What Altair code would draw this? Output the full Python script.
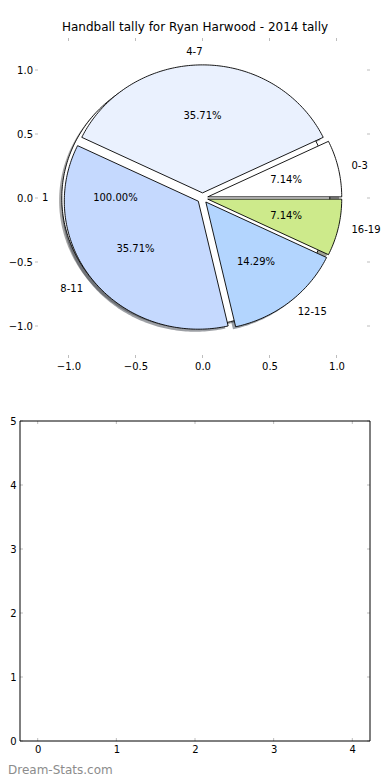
import numpy as np
import pandas as pd
import altair as alt

# ---------------- data ----------------
TITLE = "Handball tally for Ryan Harwood - 2014 tally"
slice_labels = ["0-3", "4-7", "8-11", "12-15", "16-19"]
slice_counts = [1, 5, 5, 2, 1]          # -> 7.14%, 35.71%, 35.71%, 14.29%, 7.14%
slice_colors = ["#ffffff", "#eaf1fe", "#c5d9fe", "#b3d5fe", "#cdea8b"]
full_labels = ["1"]
full_counts = [1]                        # -> 100.00%
full_colors = ["#ffffff"]
pie_ticks = [-1.0, -0.5, 0.0, 0.5, 1.0]
bottom_x_ticks = [0, 1, 2, 3, 4]
bottom_y_ticks = [0, 1, 2, 3, 4, 5]
WATERMARK = "Dream-Stats.com"

# ---------------- styles / layout ----------------
FONT = "DejaVu Sans"
TICK = "#bdbdbd"
EXPLODE = 0.04
EXPLODE_FULL = 0.05
SHADOW_OFF = -0.02
W = 350
TOP_X0 = 15               # left edge of the upper panel inside the view
H_TOP, GAP, H_BOT = 320, 63, 320
H = H_TOP + GAP + H_BOT
B0 = H_TOP + GAP          # top edge of the lower panel
TL = 3                    # tick length in px


def darker(hexc, f=0.3):
    r, g, b = (int(hexc[i:i + 2], 16) for i in (1, 3, 5))
    return "#%02x%02x%02x" % (int(r * f), int(g * f), int(b * f))


def build(labels, counts, explode, prefix):
    total = float(sum(counts))
    polys, shadows, texts = [], [], []
    t1 = 0.0
    for lab, c in zip(labels, counts):
        frac = c / total
        t2 = t1 + frac
        m = np.pi * (t1 + t2)
        cx, cy = explode * np.cos(m), explode * np.sin(m)
        n = max(int(frac * 360), 4) + 1
        ang = np.linspace(2 * np.pi * t1, 2 * np.pi * t2, n)
        if frac >= 0.999999:
            xs = list(cx + np.cos(ang))
            ys = list(cy + np.sin(ang))
        else:
            xs = [cx] + list(cx + np.cos(ang)) + [cx]
            ys = [cy] + list(cy + np.sin(ang)) + [cy]
        key = prefix + lab
        for i, (x, y) in enumerate(zip(xs, ys)):
            polys.append({"key": key, "o": i, "x": x, "y": y})
            shadows.append({"key": "sh" + key, "o": i, "x": x + SHADOW_OFF, "y": y + SHADOW_OFF})
        xt = cx + 1.1 * np.cos(m)
        yt = cy + 1.1 * np.sin(m)
        texts.append({"text": lab, "x": xt, "y": yt, "side": "left" if xt > 1e-9 else "right"})
        texts.append({"text": "%.2f%%" % (100 * frac),
                      "x": cx + 0.6 * np.cos(m), "y": cy + 0.6 * np.sin(m), "side": "center"})
        t1 = t2
    return polys, shadows, texts


fp, fs, ft = build(full_labels, full_counts, EXPLODE_FULL, "full")
sp, ss, st = build(slice_labels, slice_counts, EXPLODE, "sl")

full_df = pd.DataFrame(fp)
slice_df = pd.DataFrame(sp)
shadow_df = pd.DataFrame(fs + ss)
text_df = pd.DataFrame(ft + st)

fill_domain = ["full" + l for l in full_labels] + ["sl" + l for l in slice_labels]
fill_range = full_colors + slice_colors
sh_domain = ["sh" + k for k in fill_domain]
sh_range = [darker(c) for c in fill_range]
fill_scale = alt.Scale(domain=sh_domain + fill_domain, range=sh_range + fill_range)

LBL = dict(ticks=False, domain=False, grid=False, labelFont=FONT, labelFontSize=10,
           labelColor="black", labelFlush=False, labelOverlap=False, title=None)

# ---------------- upper panel (pie) ----------------
X_TOP = dict(scale=alt.Scale(domain=[-1.25, 1.25], range=[TOP_X0, W], nice=False, zero=False),
             axis=alt.Axis(values=pie_ticks, format=".1f", orient="bottom", offset=-(H - H_TOP),
                           labelPadding=3, **LBL))
Y_TOP = dict(scale=alt.Scale(domain=[-1.25, 1.25], range=[H_TOP, 0], nice=False, zero=False),
             axis=alt.Axis(values=pie_ticks, format=".1f", orient="left", offset=-TOP_X0,
                           labelPadding=2.5, **LBL))


def wedge_layer(df, **mark_kw):
    return alt.Chart(df).mark_line(**mark_kw).encode(
        x=alt.X("x:Q", **X_TOP),
        y=alt.Y("y:Q", **Y_TOP),
        order="o:Q",
        detail="key:N",
        fill=alt.Fill("key:N", scale=fill_scale, legend=None),
    )


def text_layer(side):
    return alt.Chart(text_df).transform_filter(alt.datum.side == side).mark_text(
        align=side, baseline="middle", font=FONT, fontSize=10, color="black"
    ).encode(x=alt.X("x:Q", **X_TOP), y=alt.Y("y:Q", **Y_TOP), text="text:N")


def ticks_x(values, xenc, y_top, y_bot):
    base = alt.Chart(pd.DataFrame({"v": values})).mark_rule(color=TICK, strokeWidth=1)
    return [base.encode(x=alt.X("v:Q", **xenc), y=alt.value(y_bot - TL), y2=alt.value(y_bot)),
            base.encode(x=alt.X("v:Q", **xenc), y=alt.value(y_top), y2=alt.value(y_top + TL))]


def ticks_y(values, yenc, x_left):
    base = alt.Chart(pd.DataFrame({"v": values})).mark_rule(color=TICK, strokeWidth=1)
    return [base.encode(y=alt.Y("v:Q", **yenc), x=alt.value(x_left), x2=alt.value(x_left + TL)),
            base.encode(y=alt.Y("v:Q", **yenc), x=alt.value(W - TL), x2=alt.value(W))]


top = alt.layer(
    wedge_layer(shadow_df, strokeOpacity=0, fillOpacity=0.5),
    wedge_layer(full_df, stroke="black", strokeWidth=0.9),
    wedge_layer(slice_df, stroke="black", strokeWidth=0.9),
    *ticks_x(pie_ticks, X_TOP, 0, H_TOP), *ticks_y(pie_ticks, Y_TOP, TOP_X0),
    text_layer("center"), text_layer("left"), text_layer("right"),
)

# ---------------- lower (empty) panel ----------------
X_BOT = dict(scale=alt.Scale(domain=[-0.225, 4.225], range=[0, W], nice=False, zero=False),
             axis=alt.Axis(values=bottom_x_ticks, orient="bottom", labelPadding=3, **LBL))
Y_BOT = dict(scale=alt.Scale(domain=[0, 5], range=[H, B0], nice=False, zero=False),
             axis=alt.Axis(values=bottom_y_ticks, orient="left", labelPadding=4, **LBL))

frame = alt.Chart(pd.DataFrame({"f": [0]})).mark_rect(
    fillOpacity=0, stroke="black", strokeWidth=1
).encode(x=alt.value(0), x2=alt.value(W), y=alt.value(B0), y2=alt.value(H))

wm = alt.Chart(pd.DataFrame({"t": [WATERMARK]})).mark_text(
    align="left", baseline="alphabetic", font=FONT, fontSize=12, color="#8c8c8c"
).encode(text="t:N", x=alt.value(-12), y=alt.value(H + 33))

bottom = alt.layer(
    *ticks_x(bottom_x_ticks, X_BOT, B0, H), *ticks_y(bottom_y_ticks, Y_BOT, 0), frame, wm,
)

chart = alt.layer(top, bottom).resolve_scale(
    x="independent", y="independent"
).resolve_axis(
    x="independent", y="independent"
).properties(
    width=W, height=H,
    title=alt.TitleParams(TITLE, font=FONT, fontSize=12, fontWeight="normal", color="black",
                          anchor="middle", offset=4),
    autosize=alt.AutoSizeParams(type="none"),
    padding={"left": 12, "top": 30, "right": 12, "bottom": 36},
).configure(background="white").configure_view(strokeOpacity=0)

chart.save("out.html", embed_options={"renderer": "svg", "actions": False})
